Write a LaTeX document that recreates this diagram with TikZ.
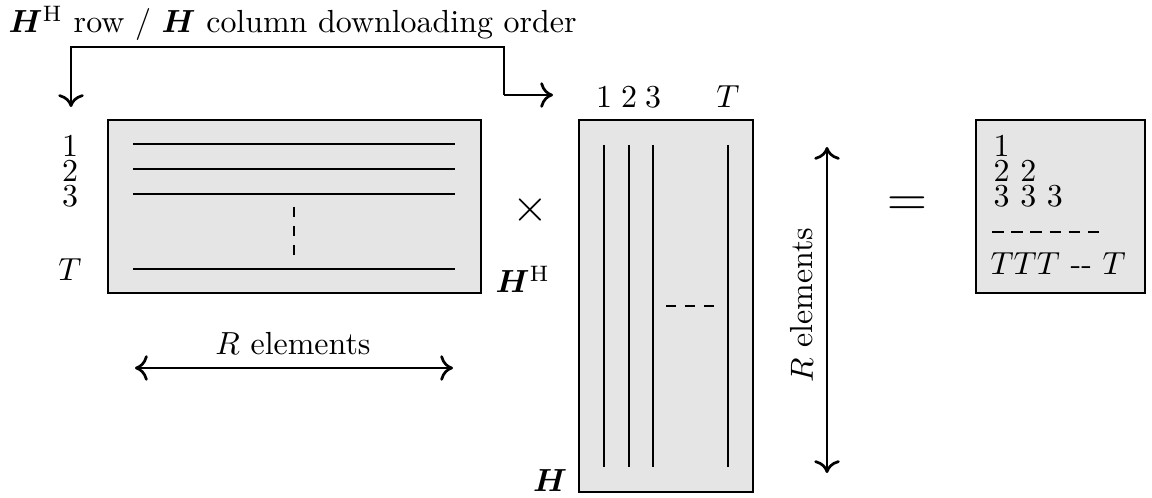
\documentclass[tikz,border=0pt]{standalone}
\usepackage{amsmath}
\usepackage{bm}
\usetikzlibrary{arrows.meta}
\begin{document}
\begin{tikzpicture}[x=0.313pt,y=-0.313pt,
  matbox/.style={draw=black, fill=black!10, line width=0.85pt},
  entry/.style={line width=0.85pt},
  dots/.style={line width=0.85pt, dash pattern=on 3pt off 3pt},
  flow/.style={line width=0.85pt, -{To[length=4pt,width=8pt]}},
  span/.style={line width=0.85pt, {To[length=4pt,width=8pt]}-{To[length=4pt,width=8pt]}},
  lbl/.style={inner sep=0pt, anchor=base}]
\useasboundingbox (0,0) rectangle (1152,498);

% title
\node[inner sep=0pt, anchor=base west] (title) at (8,33)
  {$\bm{H}^{\mathrm{H}}$ row / $\bm{H}$ column downloading order};

% downloading order arrow
\coordinate (ostart) at (71,107);
\coordinate (oend) at (553,95);
\draw[flow] (504,95) |- (71,47) -- (ostart);
\draw[flow] (504,95) -- (oend);

% H^H matrix
\draw[matbox] (108,120) rectangle (481,293);
\foreach \y in {144,169,194,269} \draw[entry] (133,\y) -- (455,\y);
\draw[dots] (294,207) -- (294,256);
\node[lbl] (r1) at (70,157) {1};
\node[lbl] (r2) at (70,182) {2};
\node[lbl] (r3) at (70,207) {3};
\node[lbl] (rT) at (70,281) {$T$};
\node[inner sep=0pt, anchor=base west] (HH) at (495,293) {$\bm{H}^{\mathrm{H}}$};

% horizontal extent
\coordinate (ha) at (135,368);
\coordinate (hb) at (453,368);
\draw[span] (ha) -- (hb);
\node[lbl] (hlab) at (293,355) {$R$ elements};

% times
\node (times) at (530,210) {\Large$\times$};

% H matrix
\draw[matbox] (579,120) rectangle (753,492);
\foreach \x in {604,629,653,728} \draw[entry] (\x,145) -- (\x,467);
\draw[dots] (666,306) -- (716,306);
\node[lbl] (c1) at (604,108) {1};
\node[lbl] (c2) at (629,108) {2};
\node[lbl] (c3) at (653,108) {3};
\node[lbl] (cT) at (728,108) {$T$};
\node[lbl] (Hl) at (550,491) {$\bm{H}$};

% vertical extent
\coordinate (va) at (827,147);
\coordinate (vb) at (827,473);
\draw[span] (va) -- (vb);
\node[rotate=90, inner sep=0pt] (vlab) at (802,305) {$R$ elements};

% equals
\node (eq) at (907,207) {\LARGE$=$};

% result
\draw[matbox] (976,120) rectangle (1145,293);
\node[inner sep=0pt, anchor=base west] (p1) at (993,157) {1};
\node[inner sep=0pt, anchor=base west] (p2) at (993,182) {2 2};
\node[inner sep=0pt, anchor=base west] (p3) at (993,207) {3 3 3};
\draw[line width=0.85pt, dash pattern=on 3.6pt off 2.4pt] (992,232) -- (1100,232);
\node[inner sep=0pt, anchor=base west] (pT) at (990,275) {$TTT$ {-}{-} $T$};
\end{tikzpicture}
\end{document}
